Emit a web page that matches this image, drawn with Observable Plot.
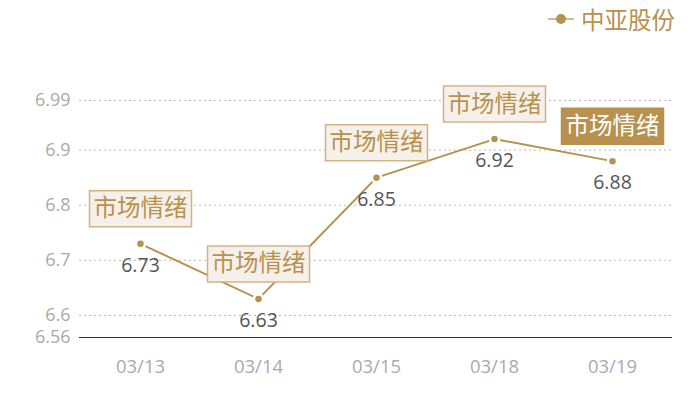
<!DOCTYPE html>
<html>
<head>
<meta charset="utf-8">
<script src="https://cdn.jsdelivr.net/npm/d3@7"></script>
<script src="https://cdn.jsdelivr.net/npm/@observablehq/plot@0.6"></script>
<style>
  body { margin: 0; background: #fff; font-family: "Open Sans", "Noto Sans CJK SC", sans-serif; }
  #wrap { position: relative; width: 700px; height: 400px; }
  #legend { position: absolute; top: 2px; left: 548px; display: flex; align-items: center; color: #b8914e; font-size: 23.5px; font-family: "Noto Sans CJK SC", sans-serif; }
  #legend svg { margin-right: 7px; }
</style>
</head>
<body>
<div id="wrap">
  <div id="legend"><svg width="26" height="12"><line x1="0" y1="6" x2="26" y2="6" stroke="#d6ba92" stroke-width="2"/><circle cx="13" cy="6" r="5" fill="#b8914e"/></svg><span>中亚股份</span></div>
</div>
<script>
const dates = ["03/13", "03/14", "03/15", "03/18", "03/19"];
const prices = [6.73, 6.63, 6.85, 6.92, 6.88];
const tags = ["市场情绪", "市场情绪", "市场情绪", "市场情绪", "市场情绪"];
const highlighted = [false, false, false, false, true];
const yTicks = [6.56, 6.6, 6.7, 6.8, 6.9, 6.99];
const seriesName = "中亚股份";

const data = dates.map((d, i) => ({date: d, price: prices[i], tag: tags[i], hi: highlighted[i]}));

const gold = "#b8914e";
const boxSymbol = { draw(ctx) { ctx.rect(-51, -18, 102, 36); } };

const chart = Plot.plot({
  width: 700,
  height: 400,
  marginTop: 100,
  marginBottom: 63,
  marginLeft: 79,
  marginRight: 28,
  style: { fontFamily: "'Open Sans', 'Noto Sans CJK SC', sans-serif", background: "transparent" },
  x: { type: "point", domain: dates, padding: 0.5 },
  y: { domain: [6.56, 6.99] },
  color: { type: "identity" },
  marks: [
    Plot.gridY(yTicks.filter(t => t !== 6.56), { stroke: "#bbb", strokeOpacity: 1, strokeDasharray: "2,3" }),
    Plot.ruleY([6.56], { stroke: "#333", strokeWidth: 1 }),
    Plot.axisY(yTicks, { tickSize: 0, tickPadding: 9, fontSize: 18, color: "#aaa", label: null, tickFormat: d => String(d) }),
    Plot.axisX({ tickSize: 0, tickPadding: 22, fontSize: 18.5, color: "#aaa", label: null }),
    Plot.line(data, { x: "date", y: "price", stroke: gold, strokeWidth: 2 }),
    Plot.dot(data, { x: "date", y: "price", r: 4.5, fill: gold, stroke: "#fff", strokeWidth: 2.5 }),
    Plot.text(data, { x: "date", y: "price", text: d => d.price.toFixed(2), dy: 22, fontSize: 19.5, fill: "#555" }),
    Plot.dot(data, { x: "date", y: "price", dy: -35, symbol: boxSymbol, r: 10,
      fill: d => d.hi ? gold : "#f5f0ea", stroke: d => d.hi ? gold : "#d3b385", strokeWidth: 1.5 }),
    Plot.text(data, { x: "date", y: "price", text: "tag", dy: -35, fontSize: 23.5,
      fontFamily: "'Noto Sans CJK SC', sans-serif", fill: d => d.hi ? "#fff" : gold })
  ]
});
document.getElementById("wrap").prepend(chart);
</script>
</body>
</html>
